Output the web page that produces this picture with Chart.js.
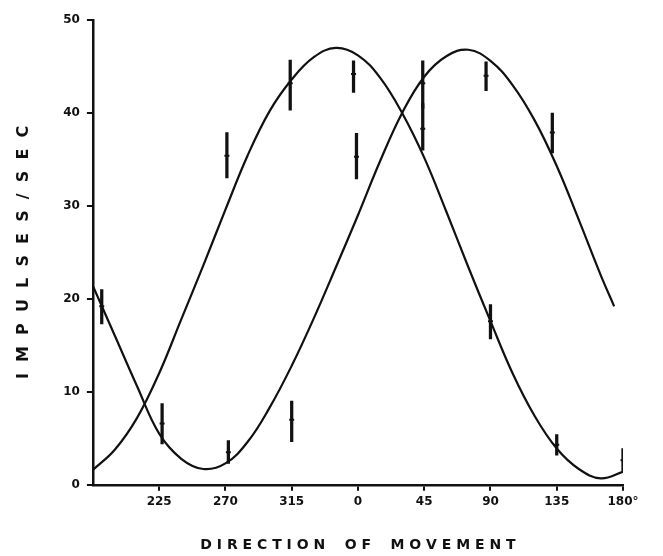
<!DOCTYPE html>
<html>
<head>
<meta charset="utf-8">
<script src="https://cdn.jsdelivr.net/npm/chart.js@4/dist/chart.umd.min.js"></script>
<style>
  html, body { margin: 0; padding: 0; background: #fff; }
  #wrap { width: 663px; height: 556px; }
</style>
</head>
<body>
<div id="wrap"><canvas id="cell-chart"></canvas></div>
<script>
// direction of movement, degrees; 180..540 so that 360 shows as "0"
xTicks = [225, 270, 315, 360, 405, 450, 495, 540];
yTicks = [0, 10, 20, 30, 40, 50];

// fitted curve 1 (peak near 340 deg)
curveAngA = [180, 195, 210, 225, 240, 255, 270, 285, 300, 315, 330, 345, 360, 375, 390, 405, 420, 435, 450, 465, 480, 495, 510, 525, 540];
curveValA = [1.6, 3.8, 7.2, 12.0, 17.8, 23.6, 29.6, 35.4, 40.2, 43.6, 46.0, 47.0, 46.2, 43.8, 40.0, 35.2, 29.4, 23.4, 17.6, 12.0, 7.4, 3.9, 1.7, 0.7, 1.4];

// fitted curve 2 (peak near 70 deg)
curveAngB = [180, 195, 210, 225, 240, 255, 270, 285, 300, 315, 330, 345, 360, 375, 390, 405, 420, 435, 450, 465, 480, 495, 510, 525, 534];
curveValB = [21.4, 16.0, 10.6, 5.5, 2.8, 1.7, 2.3, 4.6, 8.3, 12.8, 17.9, 23.4, 29.0, 34.8, 40.0, 43.9, 46.1, 46.8, 45.6, 43.0, 39.2, 34.3, 28.5, 22.5, 19.2];

// measured points: direction, mean, low, high
ptAng  = [186, 227, 272, 315, 314, 271, 357, 359, 404, 404, 447, 450, 492, 495, 540];
ptMean = [19.2, 6.6, 3.5, 7.0, 43.2, 35.4, 44.2, 35.3, 43.2, 38.3, 44.0, 17.6, 37.9, 4.3, 2.65];
ptLow  = [17.3, 4.4, 2.3, 4.65, 40.3, 33.0, 42.2, 32.9, 40.5, 36.0, 42.4, 15.7, 35.7, 3.2, 1.4];
ptHigh = [21.0, 8.75, 4.75, 9.0, 45.7, 37.9, 45.6, 37.8, 45.6, 41.0, 45.5, 19.4, 40.0, 5.4, 3.9];

curveA = curveAngA.map((a, i) => ({x: a, y: curveValA[i]}));
curveB = curveAngB.map((a, i) => ({x: a, y: curveValB[i]}));
errBars = ptAng.map((a, i) => ({x: a, y: [ptLow[i], ptHigh[i]]}));
means = ptAng.map((a, i) => ({x: a, y: ptMean[i]}));

tickFont = {family: "'DejaVu Sans', sans-serif", size: 12, weight: 'bold'};

const createChart = () => {
  new Chart(document.getElementById('cell-chart'), {
    type: 'line',
    data: {
      datasets: [
        {data: curveA, borderColor: '#111', borderWidth: 2.2, pointRadius: 0, tension: 0.4, fill: false},
        {data: curveB, borderColor: '#111', borderWidth: 2.2, pointRadius: 0, tension: 0.4, fill: false},
        {type: 'bar', data: errBars, backgroundColor: '#111', borderWidth: 0, barThickness: 2.6},
        {type: 'scatter', data: means, pointStyle: 'line', pointRadius: 2.5, borderColor: '#111', borderWidth: 2, showLine: false}
      ]
    },
    options: {
      responsive: true,
      maintainAspectRatio: false,
      animation: false,
      events: [],
      layout: {padding: {top: 20, right: 40, left: 14, bottom: 2}},
      plugins: {legend: {display: false}, tooltip: {enabled: false}},
      scales: {
        x: {
          type: 'linear',
          min: 180,
          max: 540,
          offset: false,
          afterBuildTicks: (scale) => { scale.ticks = xTicks.map(v => ({value: v})); },
          ticks: {
            color: '#111',
            font: tickFont,
            padding: 4,
            maxRotation: 0,
            callback: (v) => v === 540 ? '180°' : String(v % 360)
          },
          grid: {drawOnChartArea: false, offset: false, color: '#111', lineWidth: 2, tickLength: 6},
          border: {display: true, color: '#111', width: 2.5},
          title: {
            display: true,
            text: 'D I R E C T I O N    O F    M O V E M E N T',
            color: '#111',
            font: {family: "'DejaVu Sans', sans-serif", size: 14, weight: 'bold'},
            padding: {top: 24, bottom: 0}
          }
        },
        y: {
          min: 0,
          max: 50,
          afterBuildTicks: (scale) => { scale.ticks = yTicks.map(v => ({value: v})); },
          ticks: {color: '#111', font: tickFont, padding: 7},
          grid: {drawOnChartArea: false, color: '#111', lineWidth: 2, tickLength: 6},
          border: {display: true, color: '#111', width: 2.5},
          title: {
            display: true,
            text: 'I  M  P  U  L  S  E  S  /  S  E  C',
            color: '#111',
            font: {family: "'DejaVu Sans', sans-serif", size: 16, weight: 'bold'},
            padding: {top: 0, bottom: 23}
          }
        }
      }
    }
  });
};

createChart();
</script>
</body>
</html>
